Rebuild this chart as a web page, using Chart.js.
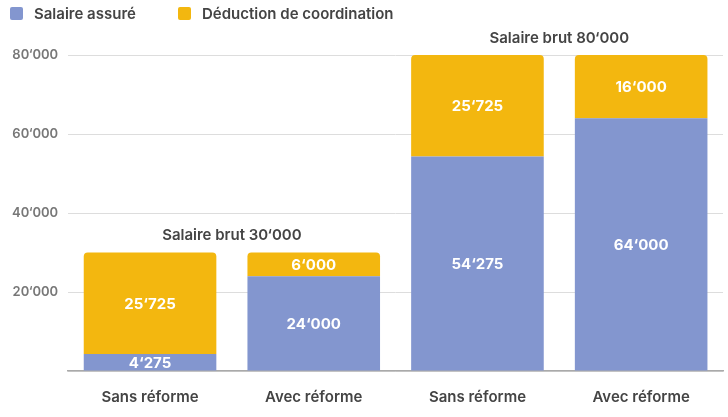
<!DOCTYPE html>
<html>
<head>
<meta charset="utf-8">
<script src="https://cdn.jsdelivr.net/npm/chart.js@4"></script>
<style>
  html, body { margin: 0; padding: 0; background: #fff; }
  #wrap { width: 728px; height: 417px; }
</style>
</head>
<body>
<div id="wrap"><canvas id="chart"></canvas></div>
<script>
// data
var categories = ['Sans réforme', 'Avec réforme', 'Sans réforme', 'Avec réforme'];
var salaireAssure = [4275, 24000, 54275, 64000];
var deductionCoord = [25725, 6000, 25725, 16000];
var groupTitles = ['Salaire brut 30‘000', 'Salaire brut 80‘000'];
var groupTotals = [30000, 80000];
var yTicks = [0, 20000, 40000, 60000, 80000];

var FONT = 'Inter, "Noto Sans", sans-serif';
var colors = ['#8396cf', '#f3b70f'];

function fmt(v) {
  return String(v).replace(/\B(?=(\d{3})+(?!\d))/g, '‘');
}

// legend at the top left, drawn by hand so the spacing matches
var legendPlugin = {
  id: 'topLegend',
  afterDraw: function(chart) {
    var ctx = chart.ctx;
    var xs = [10, 178];
    ctx.save();
    ctx.font = '600 15px ' + FONT;
    ctx.textBaseline = 'middle';
    ctx.textAlign = 'left';
    chart.data.datasets.forEach(function(ds, i) {
      ctx.fillStyle = colors[i];
      ctx.beginPath();
      ctx.roundRect(xs[i], 7, 13, 13, 2);
      ctx.fill();
      ctx.fillStyle = '#444444';
      ctx.fillText(ds.label, xs[i] + 24, 14);
    });
    ctx.restore();
  }
};

// labels inside bars + group titles
var labelPlugin = {
  id: 'barLabels',
  afterDatasetsDraw: function(chart) {
    var ctx = chart.ctx;
    ctx.save();
    ctx.textAlign = 'center';
    ctx.textBaseline = 'middle';
    ctx.fillStyle = '#ffffff';
    ctx.font = 'bold 15px ' + FONT;
    chart.data.datasets.forEach(function(ds, i) {
      var meta = chart.getDatasetMeta(i);
      meta.data.forEach(function(bar, j) {
        var mid = (bar.y + bar.base) / 2;
        ctx.fillText(fmt(ds.data[j]), bar.x, mid + 1);
      });
    });
    // group titles
    var x = chart.scales.x, y = chart.scales.y;
    ctx.fillStyle = '#444444';
    ctx.font = '600 15px ' + FONT;
    for (var g = 0; g < groupTitles.length; g++) {
      var cx = (x.getPixelForValue(g * 2) + x.getPixelForValue(g * 2 + 1)) / 2;
      var cy = y.getPixelForValue(groupTotals[g]) - 17;
      ctx.fillText(groupTitles[g], cx, cy);
    }
    ctx.restore();
  }
};

new Chart(document.getElementById('chart').getContext('2d'), {
  type: 'bar',
  data: {
    labels: categories,
    datasets: [
      {
        label: 'Salaire assuré',
        data: salaireAssure,
        backgroundColor: colors[0],
        borderRadius: 0,
        borderSkipped: false
      },
      {
        label: 'Déduction de coordination',
        data: deductionCoord,
        backgroundColor: colors[1],
        borderRadius: { topLeft: 4, topRight: 4, bottomLeft: 0, bottomRight: 0 },
        borderSkipped: false
      }
    ]
  },
  options: {
    responsive: true,
    maintainAspectRatio: false,
    animation: false,
    layout: { padding: { left: 2, right: 5, top: 55, bottom: -6 } },
    datasets: { bar: { categoryPercentage: 0.81, barPercentage: 1 } },
    plugins: {
      tooltip: { enabled: false },
      legend: { display: false }
    },
    scales: {
      x: {
        stacked: true,
        grid: { display: false, drawTicks: false },
        border: { color: '#aaaaaa', width: 1.5 },
        ticks: {
          color: '#444444',
          font: { family: FONT, size: 15, weight: '600' },
          padding: 17
        }
      },
      y: {
        stacked: true,
        min: 0,
        max: 80000,
        afterBuildTicks: function(axis) {
          axis.ticks = yTicks.map(function(v) { return { value: v }; });
        },
        grid: { color: '#dddddd', drawTicks: false },
        border: { display: false },
        ticks: {
          color: '#777777',
          font: { family: FONT, size: 13, weight: '600' },
          padding: 10,
          callback: function(v) { return v === 0 ? '' : fmt(v); }
        }
      }
    }
  },
  plugins: [labelPlugin, legendPlugin]
});
</script>
</body>
</html>
